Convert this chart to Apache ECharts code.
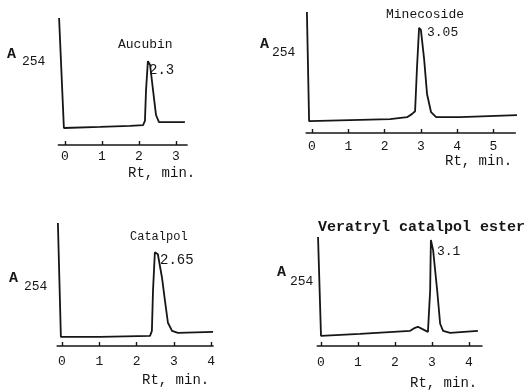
<!DOCTYPE html>
<html>
<head>
<meta charset="utf-8">
<script src="https://cdn.jsdelivr.net/npm/echarts@6/dist/echarts.min.js"></script>
<style>
html,body{margin:0;padding:0;background:#fff;}
#chart{width:531px;height:392px;}
</style>
</head>
<body>
<div id="chart"></div>
<script>
// ---- Data (retention time in min, relative A254 signal 0..100) ----
var aucubinTime   = [-0.16, -0.03, 0.95, 1.76, 2.11, 2.16, 2.19, 2.24, 2.30, 2.38, 2.46, 2.54, 2.84, 3.24];
var aucubinSignal = [100, 13.4, 14.2, 15.0, 15.7, 18.9, 43, 66, 63, 43, 23.6, 18, 18, 18];

var minecosideTime   = [-0.14, -0.08, 1.05, 2.15, 2.62, 2.75, 2.84, 2.89, 2.95, 3.00, 3.09, 3.17, 3.28, 3.42, 4.08, 5.65];
var minecosideSignal = [100, 9.8, 10.7, 11.5, 13.1, 15.6, 18, 52.5, 86.9, 85.2, 60.7, 32, 17.2, 13.1, 13.1, 14.8];

var catalpolTime   = [-0.11, -0.03, 1.02, 2.36, 2.41, 2.44, 2.49, 2.57, 2.68, 2.76, 2.84, 2.95, 3.11, 4.05];
var catalpolSignal = [100, 7.4, 7.4, 8.2, 12.3, 45, 76.2, 74.6, 55.7, 36.9, 18.9, 12.3, 10.7, 11.5];

var veratrylTime   = [-0.08, 0.0, 1.05, 2.41, 2.54, 2.62, 2.73, 2.89, 2.95, 2.97, 3.03, 3.14, 3.22, 3.30, 3.49, 4.24];
var veratrylSignal = [100, 9.3, 11.1, 13.9, 16.7, 17.6, 15.7, 13.0, 50.9, 97.2, 88, 50.9, 20.4, 13.9, 12.0, 13.9];

var ticks1 = [0, 1, 2, 3];
var ticks2 = [0, 1, 2, 3, 4, 5];
var ticks3 = [0, 1, 2, 3, 4];
var ticks4 = [0, 1, 2, 3, 4];

var axisMin = [-0.18, -0.16, -0.13, -0.1];
var axisMax = [3.3, 5.6, 4.05, 4.35];
var compoundNames = ['Aucubin', 'Minecoside', 'Catalpol', 'Veratryl catalpol ester'];
var peakLabels = ['2.3', '3.05', '2.65', '3.1'];
var axisTitle = 'Rt, min.';
var yLabelMain = 'A';
var yLabelSub = '254';

function pairs(t, v) { return t.map(function (x, i) { return [x, v[i]]; }); }

var INK = '#161616';
var MONO = '"Liberation Mono", "DejaVu Sans Mono", monospace';

// pixel scale per minute and pixel position of t = 0 for each panel
var pxPerMin = [37, 36.3, 37.3, 37];
var zeroX = [65, 312, 62, 321];
var grids = [];
var tops = [18, 12, 223, 237];
var heights = [127, 121, 123, 109];
for (var g = 0; g < 4; g++) {
  grids.push({
    left: zeroX[g] + axisMin[g] * pxPerMin[g],
    top: tops[g],
    width: (axisMax[g] - axisMin[g]) * pxPerMin[g],
    height: heights[g]
  });
}
var labelMargins = [5, 7, 9, 10];
var tickSets = [ticks1, ticks2, ticks3, ticks4];
var dataSets = [
  pairs(aucubinTime, aucubinSignal),
  pairs(minecosideTime, minecosideSignal),
  pairs(catalpolTime, catalpolSignal),
  pairs(veratrylTime, veratrylSignal)
];

var xAxes = [], yAxes = [], series = [];
for (var i = 0; i < 4; i++) {
  xAxes.push({
    type: 'value', gridIndex: i, min: axisMin[i], max: axisMax[i],
    splitLine: {show: false},
    axisLine: {show: true, lineStyle: {color: INK, width: 1.6}},
    axisTick: {show: true, inside: true, length: 4, customValues: tickSets[i], lineStyle: {color: INK, width: 1.4}},
    axisLabel: {show: true, customValues: tickSets[i], margin: labelMargins[i], color: INK,
                fontFamily: MONO, fontSize: 13}
  });
  yAxes.push({type: 'value', gridIndex: i, min: 0, max: 100, show: false});
  series.push({
    type: 'line', xAxisIndex: i, yAxisIndex: i, data: dataSets[i],
    showSymbol: false, clip: false, smooth: false,
    lineStyle: {color: INK, width: 1.8}
  });
}

function txt(x, y, s, size, opts) {
  opts = opts || {};
  return {
    type: 'text', left: x, top: y,
    style: {
      text: s, fill: INK, fontFamily: opts.family || MONO, fontSize: size,
      fontWeight: opts.bold ? 'bold' : 'normal', textVerticalAlign: 'middle'
    }
  };
}

var graphic = [
  // panel 1
  txt(7, 47, yLabelMain, 15, {bold: true}),
  txt(22, 55, yLabelSub, 13),
  txt(118, 38, compoundNames[0], 13),
  txt(149, 63, peakLabels[0], 14),
  txt(128, 166, axisTitle, 14),
  // panel 2
  txt(260, 37, yLabelMain, 15, {bold: true}),
  txt(272, 46, yLabelSub, 13),
  txt(386, 8, compoundNames[1], 13),
  txt(427, 26, peakLabels[1], 13),
  txt(445, 154, axisTitle, 14),
  // panel 3
  txt(9, 271, yLabelMain, 15, {bold: true}),
  txt(24, 280, yLabelSub, 13),
  txt(130, 231, compoundNames[2], 12),
  txt(160, 253, peakLabels[2], 14),
  txt(142, 373, axisTitle, 14),
  // panel 4
  txt(277, 265, yLabelMain, 15, {bold: true}),
  txt(290, 275, yLabelSub, 13),
  txt(318, 220, compoundNames[3], 15, {bold: true}),
  txt(437, 245, peakLabels[3], 13),
  txt(410, 376, axisTitle, 14)
];

var chart = echarts.init(document.getElementById('chart'), null, {renderer: 'canvas'});
chart.setOption({
  animation: false,
  backgroundColor: '#ffffff',
  grid: grids,
  xAxis: xAxes,
  yAxis: yAxes,
  series: series,
  graphic: graphic
});
</script>
</body>
</html>
